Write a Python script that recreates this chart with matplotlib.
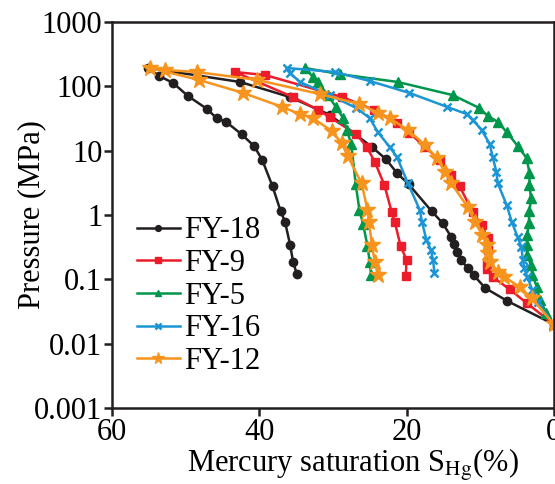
import matplotlib
matplotlib.use("Agg")
import matplotlib.pyplot as plt

plt.rcParams['font.family'] = ['Liberation Serif', 'DejaVu Serif']
plt.rcParams['mathtext.fontset'] = 'stix'

# mercury saturation (%) and pressure (MPa): injection branch then withdrawal branch
fy18_sat = [0, 6.3, 9.3, 10.9, 11.7, 12.6, 13.1, 13.6, 13.9, 15.1, 16.6, 19.7, 21.3, 22.8, 24.7,
            30.4, 35.8, 42.6, 55.1,
            53.6, 51.7, 49.7, 47.1, 45.8, 44.5, 42.4, 40.7, 39.6, 38.2, 37.1, 36.5, 35.8, 35.4, 34.9]
fy18_p = [0.02, 0.046, 0.073, 0.117, 0.15, 0.2, 0.27, 0.35, 0.45, 0.75, 1.15, 3.0, 4.5, 7.4, 11.4,
          36, 68, 117, 193,
          145, 113, 71, 44.6, 32, 28, 18, 11.8, 7.2, 2.8, 1.15, 0.78, 0.34, 0.186, 0.121]

fy9_sat = [0, 3.7, 6.0, 8.3, 9.1, 9.1, 9.0, 9.0, 9.8, 11.0, 12.8, 13.9, 15.5, 17.5, 19.6, 21.3,
           24.4, 28.7, 39.2, 43.3,
           35.4, 32.0, 30.4, 26.8, 25.4, 24.3, 23.0, 22.0, 21.6, 20.8, 20.0, 20.1]
fy9_p = [0.02, 0.043, 0.07, 0.109, 0.145, 0.186, 0.29, 0.44, 0.7, 1.11, 2.8, 4.2, 7.2, 11.4, 19, 27,
         43, 68, 150, 167,
         68, 43, 33, 18, 11.4, 6.7, 2.9, 1.1, 0.78, 0.33, 0.2, 0.112]

fy5_sat = [0, 1.0, 1.9, 2.3, 2.9, 3.1, 3.6, 3.7, 3.6, 3.4, 3.3, 3.1, 3.3, 3.3, 3.7, 4.9, 6.4, 7.6,
           9.0, 10.1, 13.7, 21.2, 29.1, 33.8,
           32.7, 32.0, 30.7, 29.6, 28.6, 28.1, 27.5, 26.9, 26.4, 25.9, 25.3, 25.0, 24.8]
fy5_p = [0.02, 0.03, 0.048, 0.076, 0.117, 0.167, 0.24, 0.34, 0.49, 0.75, 1.15, 1.84, 2.9, 4.5, 7.7,
         11.8, 19.5, 28, 35, 46, 73, 117, 155, 193,
         140, 115, 73, 48, 32, 21, 12.6, 3.0, 1.2, 0.72, 0.33, 0.186, 0.117]

fy16_sat = [0, 2.2, 2.9, 3.6, 4.0, 4.2, 4.4, 4.9, 5.7, 6.4, 7.6, 7.8, 8.3, 8.7, 9.8, 11.0, 11.8,
            14.5, 19.6, 25.0, 29.7, 36.3,
            35.8, 34.5, 30.4, 26.8, 25.0, 23.9, 22.3, 21.3, 19.8, 18.2, 17.9, 17.3, 16.7, 16.4, 16.2]
fy16_p = [0.02, 0.044, 0.068, 0.109, 0.15, 0.2, 0.32, 0.45, 0.78, 1.43, 3.1, 4.7, 8.0, 12.7, 21, 30,
          37, 48, 79, 121, 167, 193,
          161, 117, 73, 46, 32, 19.5, 11.4, 8.0, 3.1, 1.2, 0.78, 0.41, 0.29, 0.2, 0.126]

fy12_sat = [0, 3.0, 4.6, 6.7, 7.6, 8.7, 9.0, 9.1, 9.7, 10.7, 11.7, 13.9, 14.8, 15.9, 17.5, 19.8,
            22.3, 23.9, 26.4, 31.8, 40.3, 48.5, 52.8, 54.8,
            48.2, 42.2, 36.9, 34.5, 32.7, 30.1, 28.8, 28.0, 26.1, 25.3, 25.1, 24.7, 24.3, 23.9]
fy12_p = [0.02, 0.051, 0.076, 0.109, 0.13, 0.186, 0.26, 0.34, 0.49, 0.78, 1.33, 3.1, 4.7, 7.7, 12.3,
          21, 32, 39, 53, 76, 126, 167, 180, 193,
          126, 79, 48, 37, 32, 20, 13, 8.3, 3.1, 1.2, 0.78, 0.34, 0.186, 0.117]

y_ticks = [0.001, 0.01, 0.1, 1, 10, 100, 1000]
y_ticklabels = ['0.001', '0.01', '0.1', '1', '10', '100', '1000']
x_ticks = [60, 40, 20, 0]

fig = plt.figure(figsize=(5.55, 4.84), dpi=100)
ax = fig.add_axes([0.2018, 0.157, 0.796, 0.7975])

ax.plot(fy18_sat, fy18_p, color='#231f20', marker='o', ms=6, lw=1.8, label='FY-18')
ax.plot(fy9_sat, fy9_p, color='#ec1c2a', marker='s', ms=6, lw=1.8, label='FY-9')
ax.plot(fy5_sat, fy5_p, color='#00964b', marker='^', ms=7, lw=1.8, label='FY-5')
ax.plot(fy16_sat, fy16_p, color='#1b95d3', marker='x', ms=6, mew=1.8, lw=1.8, label='FY-16')
ax.plot(fy12_sat, fy12_p, color='#f7941d', marker='*', ms=12, lw=1.8, label='FY-12')

ax.set_yscale('log')
ax.set_xlim(60, 0)
ax.set_ylim(0.001, 1000)
ax.set_yticks(y_ticks)
ax.set_yticklabels(y_ticklabels)
ax.set_xticks(x_ticks)
ax.minorticks_off()
ax.tick_params(direction='out', length=6, width=1.8, labelsize=22, pad=1, color='#231f20')
for s in ax.spines.values():
    s.set_linewidth(1.8)
    s.set_color('#231f20')

ax.set_xlabel(r'Mercury saturation S$_{\mathrm{Hg}}$(%)', fontsize=22)
ax.set_ylabel('Pressure (MPa)', fontsize=22)
ax.xaxis.set_label_coords(0.545, -0.1)
ax.yaxis.set_label_coords(-0.15, 0.5)

leg = ax.legend(loc='center left', bbox_to_anchor=(0.022, 0.29), frameon=False, fontsize=22,
                handlelength=1.4, handletextpad=0.15, labelspacing=0.12, borderpad=0,
                markerscale=0.7)

fig.savefig('out.png', dpi=100)
